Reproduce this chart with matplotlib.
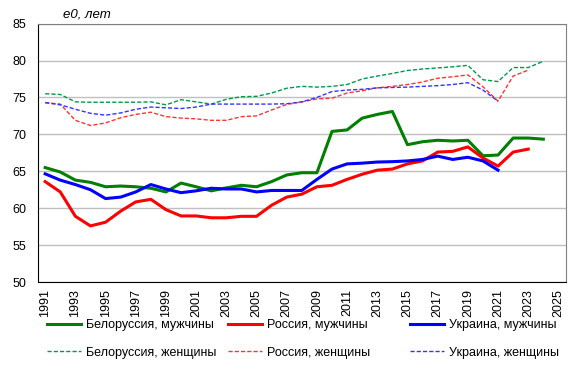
import numpy as np
import matplotlib
matplotlib.use('Agg')
import matplotlib.pyplot as plt

plt.rcParams['font.family'] = ['Liberation Sans', 'DejaVu Sans']

years = np.arange(1991, 2025)

# e0, years
by_m = [65.5, 64.9, 63.8, 63.5, 62.9, 63.0, 62.9, 62.7, 62.2, 63.4, 62.9, 62.35, 62.75,
        63.1, 62.9, 63.6, 64.5, 64.8, 64.8, 70.4, 70.6, 72.2, 72.7, 73.1, 68.6, 69.0,
        69.2, 69.1, 69.2, 67.1, 67.2, 69.5, 69.5, 69.35]
ru_m = [63.6, 62.2, 58.9, 57.6, 58.1, 59.6, 60.85, 61.2, 59.8, 58.95, 58.95, 58.7, 58.7,
        58.9, 58.9, 60.4, 61.5, 61.9, 62.9, 63.1, 63.9, 64.6, 65.15, 65.3, 66.0, 66.4,
        67.6, 67.7, 68.3, 66.8, 65.7, 67.6, 68.0]
ua_m = [64.65, 63.8, 63.2, 62.5, 61.3, 61.5, 62.2, 63.2, 62.6, 62.1, 62.35, 62.7, 62.6,
        62.6, 62.2, 62.4, 62.4, 62.4, 63.9, 65.3, 66.0, 66.1, 66.25, 66.3, 66.4, 66.6,
        67.05, 66.6, 66.9, 66.4, 65.15]
by_f = [75.5, 75.4, 74.4, 74.35, 74.35, 74.35, 74.35, 74.4, 74.0, 74.7, 74.4, 74.1, 74.75,
        75.1, 75.15, 75.6, 76.25, 76.5, 76.4, 76.5, 76.75, 77.5, 77.9, 78.25, 78.65, 78.85,
        79.0, 79.15, 79.35, 77.4, 77.15, 79.05, 79.05, 79.9]
ru_f = [74.3, 74.1, 71.9, 71.2, 71.55, 72.25, 72.7, 73.0, 72.4, 72.2, 72.1, 71.9, 71.9,
        72.4, 72.5, 73.3, 74.05, 74.4, 74.8, 74.9, 75.6, 75.9, 76.3, 76.5, 76.75, 77.1,
        77.6, 77.8, 78.05, 76.45, 74.5, 77.9, 78.7]
ua_f = [74.3, 74.0, 73.4, 72.85, 72.6, 72.9, 73.4, 73.7, 73.6, 73.5, 73.7, 74.1, 74.1,
        74.1, 74.1, 74.1, 74.15, 74.4, 75.0, 75.8, 76.0, 76.1, 76.3, 76.35, 76.4, 76.5,
        76.6, 76.75, 77.0, 76.0, 74.5]

names = ['Белоруссия', 'Россия', 'Украина']
men = [by_m, ru_m, ua_m]
women = [by_f, ru_f, ua_f]
colors_m = ['#008000', '#ff0000', '#0000ff']
colors_f = ['#00994c', '#ff3333', '#3333ff']

fig = plt.figure(figsize=(5.79, 3.75), dpi=100)
ax = fig.add_axes([0.065, 0.248, 0.9125, 0.689])

handles = []
for name, m, f, cm, cf in zip(names, men, women, colors_m, colors_f):
    hm, = ax.plot(years[:len(m)], m, color=cm, lw=2.2, label=name + ', мужчины', zorder=3)
    hf, = ax.plot(years[:len(f)], f, color=cf, lw=1.0, ls=(0, (3, 1.5)),
                  label=name + ', женщины', zorder=3)
    handles.append((hm, hf))

ax.set_xlim(1990.5, 2025.5)
ax.set_ylim(50, 85)
ax.set_yticks(np.arange(50, 86, 5))
ax.set_xticks(np.arange(1991, 2026, 2))
ax.set_xticklabels([str(y) for y in range(1991, 2026, 2)], rotation=90)
ax.tick_params(axis='both', length=0, labelsize=9)
ax.tick_params(axis='y', pad=8)
ax.tick_params(axis='x', pad=5)
ax.grid(axis='y', color='#c0c0c0', lw=1)
ax.set_axisbelow(True)
ax.spines['left'].set_color('black')
ax.spines['bottom'].set_color('black')
ax.spines['top'].set_color('#808080')
ax.spines['right'].set_color('#808080')

fig.text(0.109, 0.962, 'e0, лет', style='italic', fontsize=9.5, va='center', ha='left')

xs = [47 / 579, 228 / 579, 410 / 579]
for x, (hm, hf) in zip(xs, handles):
    fig.legend([hm, hf], [hm.get_label(), hf.get_label()], loc='upper left',
               bbox_to_anchor=(x, 1 - 319 / 375), frameon=False, fontsize=9,
               handlelength=2.75, handletextpad=0.4, labelspacing=1.25,
               borderpad=0, borderaxespad=0)

fig.savefig('out.png', dpi=100)
